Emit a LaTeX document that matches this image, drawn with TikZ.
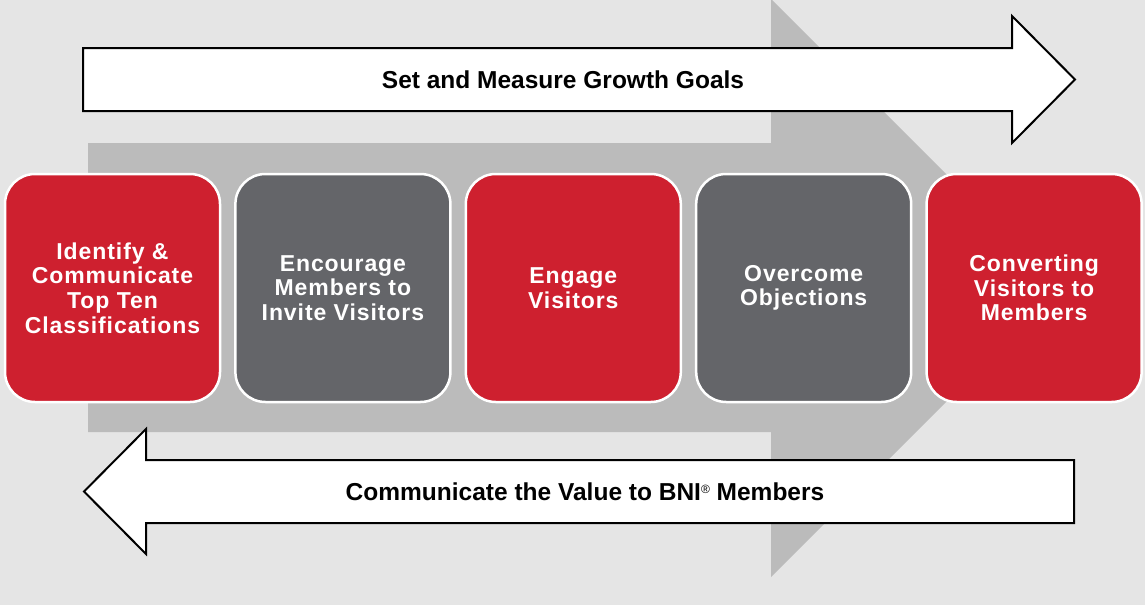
\documentclass[tikz,border=0pt]{standalone}
\usepackage{fontspec}
\setmainfont{Liberation Sans}
\usetikzlibrary{positioning}

\definecolor{bnired}{HTML}{CE202F}
\definecolor{bnigray}{HTML}{646569}
\definecolor{backgray}{HTML}{E5E5E5}
\definecolor{flowgray}{HTML}{BBBBBB}

\begin{document}
\begin{tikzpicture}[x=1pt,y=-1pt,node distance=12.9pt,
  stage/.style={draw=white,line width=2.5pt,rounded corners=30pt,
    minimum width=215pt,minimum height=228pt,text=white,align=center,
    font=\bfseries\addfontfeature{LetterSpace=4}\fontsize{23}{24.6}\selectfont},
  banner/.style={draw=black,line width=2pt,fill=white,line join=miter},
  bannertext/.style={font=\bfseries\fontsize{24.5}{28}\selectfont}]
  \fill[backgray] (0,0) rectangle (1145,605);
  \useasboundingbox (0,0) rectangle (1145,605);

  % big arrow behind the stages
  \fill[flowgray] (88,143) -- (771,143) -- (771,-1) -- (1060,288)
    -- (771,577) -- (771,432) -- (88,432) -- cycle;

  % top and bottom arrows
  \draw[banner] (83,48) -- (1012,48) -- (1012,16) -- (1075,79.5)
    -- (1012,143) -- (1012,111) -- (83,111) -- cycle;
  \node[bannertext] (goals) at (563,79.5) {Set and Measure Growth Goals};

  \draw[banner] (1074,460) -- (146,460) -- (146,429) -- (84,491.5)
    -- (146,554) -- (146,523) -- (1074,523) -- cycle;
  \node[bannertext] (value) at (585,491.5)
    {Communicate the Value to BNI\raisebox{7pt}{\mdseries\fontsize{12}{12}\selectfont ®} Members};

  % stages
  \node[stage,fill=bnired] (classify) at (112.5,288)
    {Identify \&\\Communicate\\Top Ten\\Classifications};
  \node[stage,fill=bnigray,right=of classify] (invite)
    {Encourage\\Members to\\Invite Visitors};
  \node[stage,fill=bnired,right=of invite] (engage)
    {Engage\\Visitors};
  \node[stage,fill=bnigray,right=of engage] (objections)
    {Overcome\\Objections};
  \node[stage,fill=bnired,right=of objections] (convert)
    {Converting\\Visitors to\\Members};
\end{tikzpicture}
\end{document}
